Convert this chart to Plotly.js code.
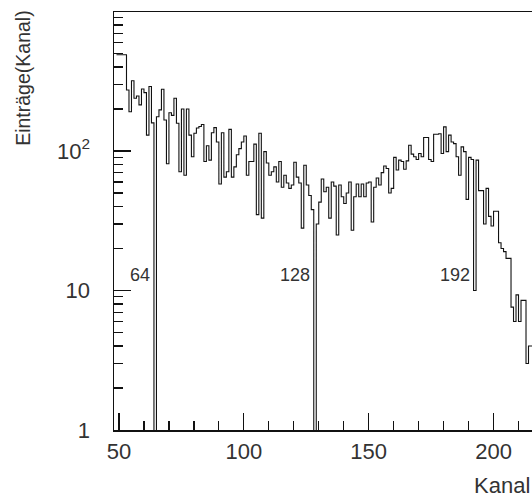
<!DOCTYPE html>
<html>
<head>
<meta charset="utf-8">
<script src="https://cdn.plot.ly/plotly-3.0.1.min.js"></script>
<style>
  html, body { margin: 0; padding: 0; background: #fff; overflow: hidden; }
  #chart { width: 560px; height: 497px; }
</style>
</head>
<body>
<div id="chart"></div>
<script>
// First channel of the histogram (channel n covers [n, n+1))
const firstChannel = 49;
// Entries per channel, channels 49 .. 215
const entries = [
  490, 490, 490, 490, 274, 191, 319, 239, 248, 214, 278, 262, 130, 290, 159,   // 49-63
  0, 176, 197, 277, 167, 81, 188, 180, 239, 158, 71, 200, 67, 200, 130, 91,    // 64-79
  134, 146, 150, 155, 84, 109, 86, 135, 147, 116, 58, 135, 65, 71, 143, 65,    // 80-95
  77, 94, 104, 116, 128, 67, 84, 84, 112, 35, 134, 33, 99, 82, 67, 71,         // 96-111
  77, 60, 84, 55, 67, 59, 54, 57, 83, 65, 59, 28, 79, 57, 48, 38,              // 112-127
  0, 30, 43, 63, 51, 55, 33, 60, 56, 25, 57, 47, 42, 50, 60, 27,               // 128-143
  47, 58, 47, 58, 47, 59, 60, 31, 55, 64, 57, 70, 78, 75, 50, 54,              // 144-159
  90, 73, 86, 84, 74, 85, 110, 95, 91, 87, 96, 91, 125, 125, 87, 84,           // 160-175
  132, 132, 133, 96, 149, 99, 130, 116, 113, 91, 67, 107, 99, 45, 90, 87,      // 176-191
  10, 86, 52, 52, 30, 54, 34, 29, 37, 37, 22, 20, 19, 17, 17, 7.6,             // 192-207
  6, 9.3, 6, 8.5, 8.5, 3.0, 4, 4                                               // 208-215
];
// Channels marked with text labels
const markedChannels = [64, 128, 192];
// Axis ticks
const xMajor = [50, 100, 150, 200];
const xMinor = [60, 70, 80, 90, 110, 120, 130, 140, 160, 170, 180, 190, 210, 220];
const yMajor = [1, 10, 100];
const yMajorText = ['1', '10', '10<sup>2</sup>'];
const yMinor = [2,3,4,5,6,7,8,9,20,30,40,50,60,70,80,90,200,300,400,500,600,700,800,900];

// Build step outline: channel n spans [n, n+1)
const floorVal = 1e-3; // empty channels drop below the log axis
const xs = [], ys = [];
entries.forEach((v, i) => {
  xs.push(firstChannel + i);
  ys.push(v > 0 ? v : floorVal);
});
xs.push(firstChannel + entries.length);
ys.push(ys[ys.length - 1]);

const font = 'Liberation Sans, Arial, sans-serif';
const textColor = '#333';

const trace = {
  x: xs, y: ys, type: 'scatter', mode: 'lines',
  line: { shape: 'hv', color: '#111', width: 1.1 },
  hoverinfo: 'skip'
};

const annotations = markedChannels.map(c => ({
  x: c, y: Math.log10(13), xref: 'x', yref: 'y',
  text: String(c), showarrow: false, xanchor: 'right', yanchor: 'middle',
  xshift: -2, font: { family: font, size: 18, color: textColor }
}));
annotations.push({
  xref: 'paper', yref: 'paper', x: (532 - 114) / 446, y: -(471 - 430) / 418,
  xanchor: 'right', yanchor: 'top', text: 'Kanal', showarrow: false,
  font: { family: font, size: 22, color: textColor }
});
annotations.push({
  xref: 'paper', yref: 'paper', x: (23 - 114) / 446, y: 1.01,
  xanchor: 'center', yanchor: 'top', text: 'Einträge(Kanal)', showarrow: false,
  textangle: -90, font: { family: font, size: 19.5, color: textColor }
});

const layout = {
  width: 560, height: 497,
  margin: { l: 114, r: 0, t: 12, b: 67, pad: 0 },
  paper_bgcolor: '#fff', plot_bgcolor: '#fff',
  showlegend: false,
  xaxis: {
    range: [48.0, 48.0 + 446 / 2.497],
    showgrid: false, zeroline: false,
    showline: true, linecolor: '#111', linewidth: 1.5, mirror: true,
    ticks: 'inside', ticklen: 17, tickwidth: 1.2, tickcolor: '#111',
    tickvals: xMajor, ticktext: xMajor.map(String),
    ticklabelstandoff: 1,
    tickfont: { family: font, size: 22, color: textColor },
    minor: { tickvals: xMinor, ticks: 'inside', ticklen: 9, tickwidth: 1.2, tickcolor: '#111', showgrid: false }
  },
  yaxis: {
    type: 'log', range: [0, 418 / 139.5],
    showgrid: false, zeroline: false,
    showline: true, linecolor: '#111', linewidth: 1.5, mirror: true,
    ticks: 'inside', ticklen: 17, tickwidth: 1.2, tickcolor: '#111',
    tickvals: yMajor, ticktext: yMajorText,
    ticklabelstandoff: 18,
    tickfont: { family: font, size: 22, color: textColor },
    minor: { tickvals: yMinor, ticks: 'inside', ticklen: 9, tickwidth: 1.2, tickcolor: '#111', showgrid: false }
  },
  annotations: annotations
};

Plotly.newPlot('chart', [trace], layout, { staticPlot: true, displayModeBar: false });
</script>
</body>
</html>
